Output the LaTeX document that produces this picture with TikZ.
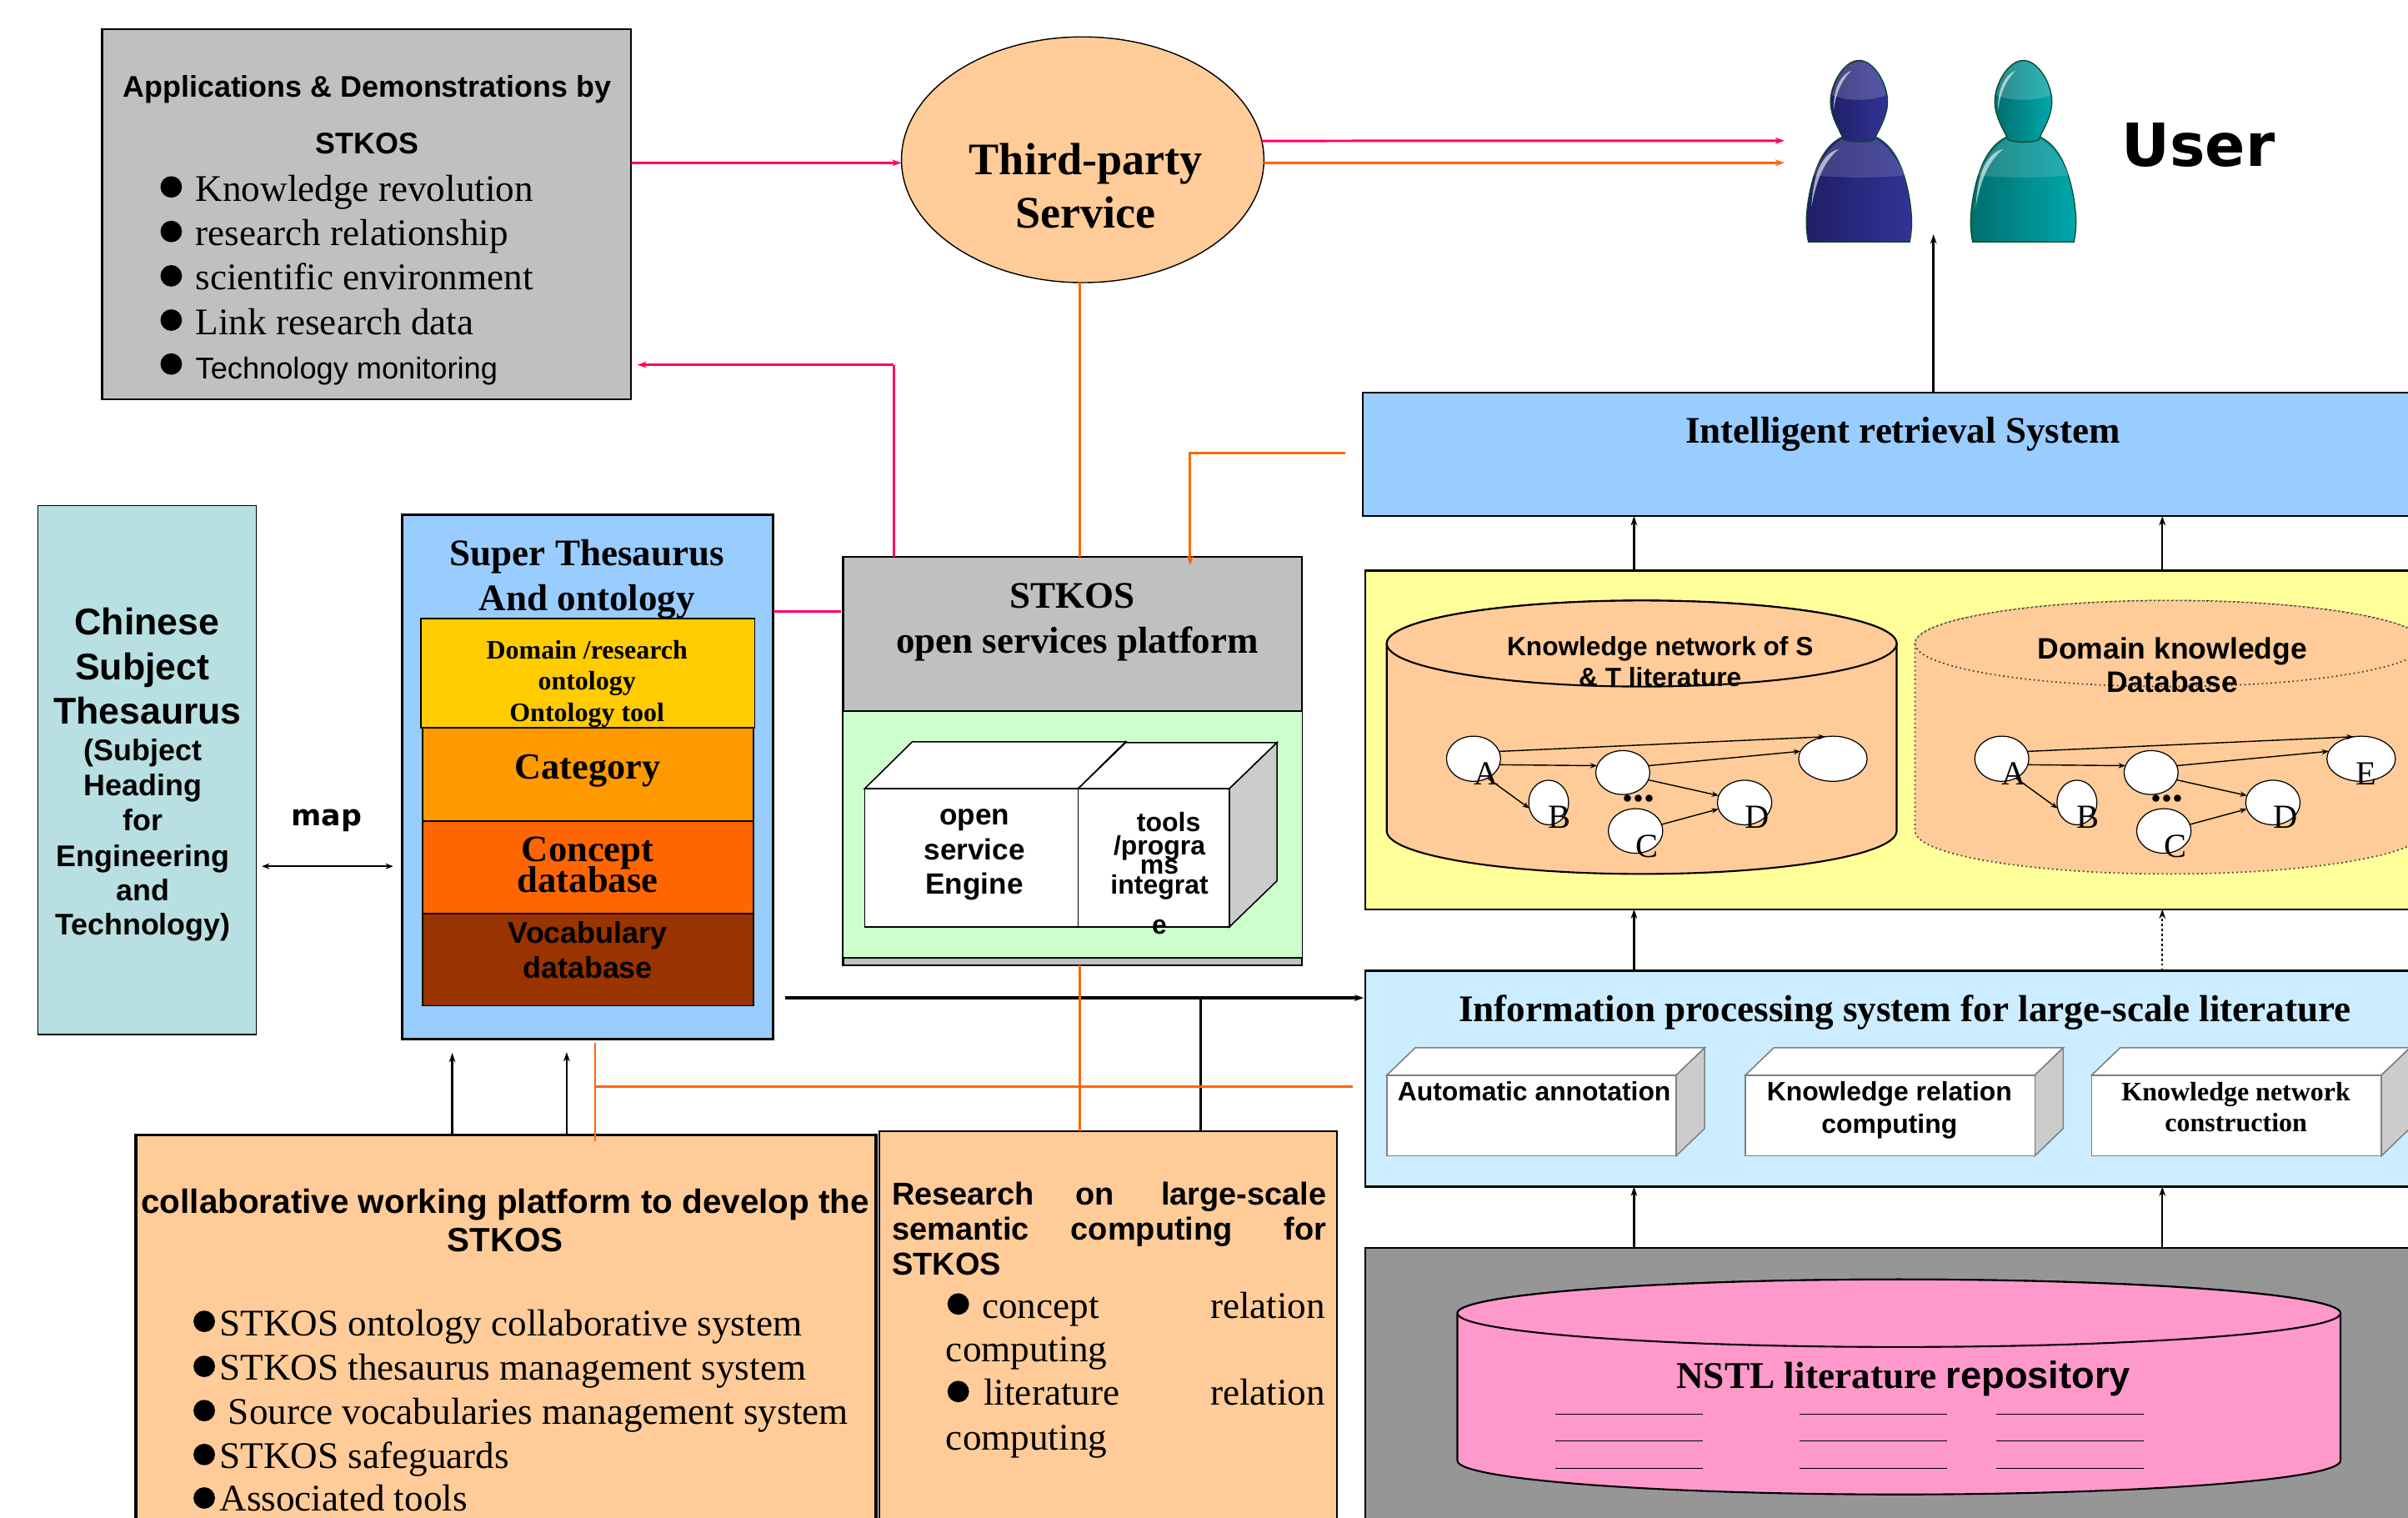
\documentclass[tikz,border=0pt]{standalone}
\usepackage{fontspec}
\setmainfont{Liberation Serif}
\setsansfont{Liberation Sans}
\newfontfamily\dvfont{DejaVu Sans}
\usetikzlibrary{arrows.meta,shapes.geometric}
\def\ou{0.18425mm}
\definecolor{cPink}{HTML}{FF0066}
\definecolor{cOrange}{HTML}{FF6600}
\definecolor{cPeach}{HTML}{FFCC99}
\definecolor{cGrey}{HTML}{C0C0C0}
\definecolor{cSky}{HTML}{99CCFF}
\definecolor{cTeal}{HTML}{B8DFE2}
\definecolor{cMint}{HTML}{CCFFCC}
\definecolor{cCream}{HTML}{FFFF99}
\definecolor{cIce}{HTML}{CCECFF}
\definecolor{cDark}{HTML}{969696}
\definecolor{cRose}{HTML}{FF99CC}
\definecolor{cSide}{HTML}{CCCCCC}
\definecolor{cNavyA}{HTML}{1E1E66}
\definecolor{cNavyB}{HTML}{333399}
\definecolor{cSeaA}{HTML}{006E6E}
\definecolor{cSeaB}{HTML}{00A8AC}
\definecolor{cEdge}{HTML}{0B4A2A}
\newcommand\fsb[1]{\fontsize{#1}{#1}\selectfont\rmfamily\bfseries}
\newcommand\fsr[1]{\fontsize{#1}{#1}\selectfont\rmfamily}
\newcommand\fab[1]{\fontsize{#1}{#1}\selectfont\sffamily\bfseries}
\newcommand\far[1]{\fontsize{#1}{#1}\selectfont\sffamily}
\newcommand\fdj[1]{\fontsize{#1}{#1}\selectfont\dvfont\bfseries}
\newcommand\rn[6]{\node[rbox,#1,minimum width={(#5-#3)*\ou},minimum height={(#6-#4)*\ou}] (#2) at ({(#3+#5)/2},{(#4+#6)/2}) {};}
% name, x1,y1,x2,y2, dx,dy, edge colour
\newcommand\boxthree[8]{%
 \path[draw=#8,fill=white,line width=.45pt] (#2,#3) -- ({#2+#6},{#3-#7}) -- ({#4+#6},{#3-#7}) -- (#4,#3) -- cycle;
 \path[draw=#8,fill=cSide,line width=.45pt] (#4,#3) -- ({#4+#6},{#3-#7}) -- ({#4+#6},{#5-#7}) -- (#4,#5) -- cycle;
 \rn{draw=#8,fill=white,line width=.45pt}{#1}{#2}{#3}{#4}{#5}}
% style, x1, x2, ytop, ybot, rx, ry
\newcommand\cyl[7]{%
 \path[#1] (#2,#4) -- (#2,#5) arc[start angle=180,end angle=0,x radius=#6,y radius=#7] -- (#3,#4) arc[start angle=0,end angle=-180,x radius=#6,y radius=#7] -- cycle;
 \path[#1] ({(#2+#3)/2},#4) ellipse[x radius=#6,y radius=#7];}
\newcommand\person[4]{%
 \begin{scope}[shift={(#1,0)}]
 \path[left color=#2,right color=#3,draw=#4,line width=.35pt] (-10.5,89) .. controls (-24,95) and (-30,112) .. (-33,130) .. controls (-35,143) and (-34.5,150) .. (-33,157.5) -- (33,157.5) .. controls (34.5,150) and (35,143) .. (33,130) .. controls (30,112) and (24,95) .. (10.5,89) -- cycle;
 \path[fill=white,opacity=.14] (-10,90) .. controls (-20,95) and (-27,108) .. (-30,114) .. controls (-15,116) and (15,116) .. (30,114) .. controls (27,108) and (20,95) .. (10,90) -- cycle;
 \path[fill=white,opacity=.6] (-31,135) .. controls (-30,115) and (-25,100) .. (-13,97) .. controls (-23,105) and (-28,118) .. (-31,135) -- cycle;
 \path[left color=#2,right color=#3,draw=#4,line width=.35pt] (0,39.3) .. controls (-10,39.3) and (-18.6,55) .. (-18.6,66) .. controls (-18.6,76) and (-13,84) .. (-10,91) .. controls (-6,93) and (6,93) .. (10,91) .. controls (13,84) and (18.6,76) .. (18.6,66) .. controls (18.6,55) and (10,39.3) .. (0,39.3) -- cycle;
 \path[fill=white,opacity=.18] (0,40) .. controls (-9,40) and (-16,52) .. (-17.5,62) .. controls (-8,66) and (8,66) .. (17.5,62) .. controls (16,52) and (9,40) .. (0,40) -- cycle;
 \path[fill=white,opacity=.6] (-16.5,72) .. controls (-17,60) and (-13,49) .. (-5,46) .. controls (-11,52) and (-15,60) .. (-16.5,72) -- cycle;
 \end{scope}}
% network inside a cylinder
\newcommand\netw[2]{%
 \begin{scope}[shift={(#1,0)}]
 \node[dot,minimum width=35.2*\ou,minimum height=29.4*\ou] (#2a) at (959.5,494) {};
 \node[dot,minimum width=35.2*\ou,minimum height=28.6*\ou] (#2m) at (1056.7,503) {};
 \node[dot,minimum width=44.6*\ou,minimum height=29.4*\ou] (#2e) at (1193.5,494) {};
 \node[dot,minimum width=26*\ou,minimum height=29*\ou] (#2b) at (1008.4,522.5) {};
 \node[dot,minimum width=35.4*\ou,minimum height=29*\ou] (#2d) at (1136,522.5) {};
 \node[dot,minimum width=35.4*\ou,minimum height=29*\ou] (#2c) at (1065,541) {};
 \draw[netarrow] (#2a.16) -- (#2e.109);
 \draw[netarrow] (#2a.-13) -- (#2m.165);
 \draw[netarrow] (#2a.-54) -- (#2b.197);
 \draw[netarrow] (#2m.15) -- (#2e.167);
 \draw[netarrow] (#2m.-16) -- (#2d.165);
 \draw[netarrow] (#2c.14) -- (#2d.194);
 \node[ctr,font=\fsr{11.5}] (#2la) at (967.5,504) {A};
 \node[ctr,font=\fsr{11.5}] (#2lb) at (1015.7,532) {B};
 \node[ctr,font=\fsr{11.5}] (#2lc) at (1072.4,551) {C};
 \node[ctr,font=\fsr{11.5}] (#2ld) at (1144,532) {D};
 \node[lbl,font=\fsb{14.7}] (#2ldots) at (1067,520.6) {...};
 \end{scope}}
\tikzset{
 rbox/.style={rectangle,inner sep=0pt,outer sep=0pt},
 lbl/.style={inner sep=0pt,outer sep=0pt,anchor=base,yshift=-0.18mm},
 ctr/.style={inner sep=0pt,outer sep=0pt,anchor=center},
 dot/.style={ellipse,draw=black,line width=.35pt,fill=white,inner sep=0pt,outer sep=0pt},
 bull/.style={circle,fill=black,inner sep=0pt,outer sep=0pt,minimum size=14*\ou},
 tip/.style={-{Stealth[length=3.2pt,width=2.2pt]}},
 netarrow/.style={line width=.4pt,-{Stealth[length=2.4pt,width=1.8pt]}},
 pinkl/.style={draw=cPink,line width=.85pt},
 orangel/.style={draw=cOrange,line width=.85pt},
 blackl/.style={draw=black,line width=.7pt},
 rule/.style={draw=black,line width=.35pt},
}
\begin{document}
\begin{tikzpicture}[x=0.18425mm,y=-0.18425mm]
\useasboundingbox (0,0) rectangle (1568,987.8);
\clip (0,0) rectangle (1568,987.8);
\fill[white] (0,0) rectangle (1568,987.8);

% ---- boxes
\rn{draw=black,fill=cGrey,line width=.6pt}{app}{66.5}{19}{411}{260}
\node[ellipse,draw=black,fill=cPeach,line width=.4pt,inner sep=0pt,outer sep=0pt,minimum width=236*\ou,minimum height=160*\ou] (third) at (705,104) {};
\rn{draw=black,fill=cSky,line width=.7pt}{retr}{887.5}{255.6}{1620}{336}
\rn{draw=black,fill=cCream,line width=.7pt}{know}{889}{371.5}{1620}{592}
\rn{draw=black,fill=cIce,line width=.6pt}{proc}{889}{632}{1620}{772.6}
\rn{draw=black,fill=cDark,line width=.6pt}{nstl}{889}{812.6}{1620}{1010}
\rn{draw=black,fill=cTeal,line width=.35pt}{chin}{24.6}{329}{167}{673.5}
\rn{draw=black,fill=cSky,line width=.8pt}{sup}{261.8}{335}{503.5}{676.5}
\rn{draw=black,fill=cGrey,line width=.6pt}{stk}{549}{362.4}{848}{628.5}
\rn{draw=black,fill=cMint,line width=.45pt}{stkg}{549}{463}{848}{623.5}
\rn{draw=black,fill=cPeach,line width=.9pt}{coll}{88.5}{739}{570.4}{1010}
\rn{draw=black,fill=cPeach,line width=.5pt}{rese}{572.5}{736.5}{870.6}{1010}

% ---- layers of the super thesaurus
\rn{draw=black,fill={rgb,255:red,255;green,204;blue,0},line width=.5pt}{ly}{274}{402.7}{491.5}{474}
\rn{draw=black,fill={rgb,255:red,255;green,153;blue,0},line width=.5pt}{lc}{275}{474}{490.6}{534.7}
\rn{draw=black,fill=cOrange,line width=.5pt}{lp}{275}{534.7}{490.6}{594.8}
\rn{draw=black,fill={rgb,255:red,153;green,51;blue,0},line width=.5pt}{lv}{275}{594.8}{490.6}{654.8}

% ---- 3D boxes
\boxthree{boxs}{563}{513.5}{702}{603.5}{31}{30.5}{black}
\boxthree{boxt}{702}{513.5}{800.5}{603.5}{31}{30}{black}
\boxthree{boxa}{903}{700}{1091.5}{752.5}{18.5}{17.8}{gray}
\boxthree{boxk}{1136.5}{700}{1325}{752.5}{18.5}{17.8}{gray}
\boxthree{boxn}{1362}{700}{1550.7}{752.5}{18.5}{17.8}{gray}

% ---- cylinders
\cyl{draw=black,fill=cPeach,line width=.6pt}{903}{1235}{419}{541}{166}{28}
\cyl{draw=black!75,fill=cPeach,line width=.5pt,densely dotted}{1247}{1579}{419}{541}{166}{28}
\cyl{draw=black,fill=cRose,line width=.6pt}{949}{1524}{855}{951}{287.5}{22}
\netw{0}{p}
\netw{344}{q}
\node[ctr,font=\fsr{11.5}] (qle) at (1541,504) {E};

% ---- lines inside the repository
\foreach \xa/\xb/\nm in {1013/1109/u,1172/1268/v,1300/1396/w}{
 \foreach \yy/\mm in {920.7/a,938/b,956/c}{
  \coordinate (l\nm\mm s) at (\xa,\yy);
  \coordinate (l\nm\mm e) at (\xb,\yy);
  \draw[rule] (l\nm\mm s) -- (l\nm\mm e);
 }}

% ---- users
\person{1210.5}{cNavyA}{cNavyB}{cEdge}
\person{1317.5}{cSeaA}{cSeaB}{cEdge}

% ---- guide coordinates
\coordinate (gxa) at (1064,0);
\coordinate (gxb) at (1408,0);
\coordinate (gxc) at (1259,0);
\coordinate (gxd) at (703,0);
\coordinate (gxe) at (782,0);
\coordinate (gxf) at (387.5,0);
\coordinate (gxg) at (294.5,0);
\coordinate (gxh) at (369,0);
\coordinate (gxi) at (582,0);
\coordinate (gxj) at (775,0);
\coordinate (gya) at (0,106);
\coordinate (pinkA) at (1162,91.6);
\coordinate (orangeA) at (1162,106);
\coordinate (userT) at (1259,152.6);
\coordinate (pinkB) at (582,237.5);
\coordinate (pinkC) at (415,237.5);
\coordinate (orangeB) at (876,295);
\coordinate (orangeC) at (775,295);
\coordinate (orangeD) at (775,368);
\coordinate (pinkD) at (503.7,398);
\coordinate (pinkE) at (547.5,398);
\coordinate (mapL) at (170.5,564);
\coordinate (mapR) at (256,564);
\coordinate (blackA) at (511,649.7);
\coordinate (blackB) at (888,649.7);
\coordinate (orangeE) at (387.5,707.7);
\coordinate (orangeF) at (881,707.7);
\coordinate (orangeG) at (387.5,679);
\coordinate (orangeH) at (387.5,743);
\coordinate (upA) at (294.5,685.5);
\coordinate (upB) at (369,685);
\coordinate (junc) at (782,649.7);

% ---- connectors
\draw[pinkl,tip] (app.east |- gya) -- (third.181);
\draw[pinkl,tip] (third.6) -- (pinkA);
\draw[orangel,tip] (third.-1) -- (orangeA);
\draw[orangel] (third.south -| gxd) -- (stk.north -| gxd);
\draw[blackl,tip] (retr.north -| gxc) -- (userT);
\draw[pinkl,line width=.7pt] (stk.north -| gxi) -- (pinkB);
\draw[pinkl,line width=.7pt,tip] (pinkB) -- (pinkC);
\draw[orangel,tip] (orangeB) -- (orangeC) -- (orangeD);
\draw[pinkl,line width=.7pt] (pinkD) -- (pinkE);
\draw[blackl,line width=.5pt,{Stealth[length=2.6pt,width=2pt]}-{Stealth[length=2.6pt,width=2pt]}] (mapL) -- (mapR);
\draw[black,line width=1pt,tip] (blackA) -- (blackB);
\draw[blackl,line width=.8pt] (junc) -- (rese.north -| gxe);
\draw[orangel] (stk.south -| gxd) -- (rese.north -| gxd);
\draw[orangel] (orangeE) -- (orangeF);
\draw[orangel,line width=.65pt] (orangeG) -- (orangeH);
\draw[blackl,tip] (coll.north -| gxg) -- (upA);
\draw[blackl,tip] (coll.north -| gxh) -- (upB);
\draw[blackl,tip] (know.north -| gxa) -- (retr.south -| gxa);
\draw[blackl,tip] (know.north -| gxb) -- (retr.south -| gxb);
\draw[blackl,tip] (proc.north -| gxa) -- (know.south -| gxa);
\draw[blackl,densely dotted,tip] (proc.north -| gxb) -- (know.south -| gxb);
\draw[blackl,tip] (nstl.north -| gxa) -- (proc.south -| gxa);
\draw[blackl,tip] (nstl.north -| gxb) -- (proc.south -| gxb);

% ---- texts: application box
\node[lbl,font=\fab{10.2}] (t1) at (239,62.2) {Applications \& Demonstrations by};
\node[lbl,font=\fab{10.2}] (t2) at (239,99.4) {STKOS};
\node[bull] (ba1) at (111.5,121.7) {};
\node[bull] (ba2) at (111.5,150.7) {};
\node[bull] (ba3) at (111.5,179.6) {};
\node[bull] (ba4) at (111.5,208.4) {};
\node[bull] (ba5) at (111.5,237) {};
\node[lbl,anchor=base west,font=\fsr{12.85}] (t3) at (127.4,129.9) {Knowledge revolution};
\node[lbl,anchor=base west,font=\fsr{12.85}] (t4) at (127.4,158.8) {research relationship};
\node[lbl,anchor=base west,font=\fsr{12.85}] (t5) at (127.4,187.8) {scientific environment};
\node[lbl,anchor=base west,font=\fsr{12.85}] (t6) at (127.4,216.7) {Link research data};
\node[lbl,anchor=base west,font=\far{10.3}] (t7) at (127.4,245.7) {Technology monitoring};

% ---- top
\node[lbl,font=\fsb{15.4}] (t8) at (707,112.7) {Third-party};
\node[lbl,font=\fsb{15.4}] (t9) at (707,147.3) {Service};
\node[lbl,anchor=base west,font=\fdj{20.3}] (t10) at (1381.5,107.4) {User};
\node[lbl,font=\fsb{12.8}] (t11) at (1239,287.6) {Intelligent retrieval System};

% ---- chinese subject thesaurus
\node[lbl,font=\fab{12.7}] (t12) at (95.7,412.3) {Chinese};
\node[lbl,font=\fab{12.7}] (t13) at (92.7,441.5) {Subject};
\node[lbl,font=\fab{12.7}] (t14) at (96,470.4) {Thesaurus};
\node[lbl,font=\fab{10.2}] (t15) at (93,494.2) {(Subject};
\node[lbl,font=\fab{10.2}] (t16) at (93,517) {Heading};
\node[lbl,font=\fab{10.2}] (t17) at (93,540) {for};
\node[lbl,font=\fab{10.2}] (t18) at (93,563.3) {Engineering};
\node[lbl,font=\fab{10.2}] (t19) at (93,585.6) {and};
\node[lbl,font=\fab{10.2}] (t20) at (93,607.8) {Technology)};
\node[lbl,font=\fdj{9.9}] (t21) at (212.7,536.6) {map};

% ---- super thesaurus
\node[lbl,font=\fsb{12.8}] (t22) at (382.2,367.5) {Super Thesaurus};
\node[lbl,font=\fsb{12.8}] (t23) at (382.2,396.5) {And ontology};
\node[lbl,font=\fsb{9.1}] (t24) at (382.2,428) {Domain /research};
\node[lbl,font=\fsb{9.1}] (t25) at (382.2,448) {ontology};
\node[lbl,font=\fsb{9.1}] (t26) at (382.2,468.5) {Ontology tool};
\node[lbl,font=\fsb{12.6}] (t27) at (382.7,506.3) {Category};
\node[lbl,font=\fsb{12.7}] (t28) at (382.7,560) {Concept};
\node[lbl,font=\fsb{12.7}] (t29) at (382.7,580) {database};
\node[lbl,font=\fab{10.2}] (t30) at (382.7,613) {Vocabulary};
\node[lbl,font=\fab{10.2}] (t31) at (382.7,636) {database};

% ---- stkos platform
\node[lbl,font=\fsb{12.8}] (t32) at (698.2,395) {STKOS};
\node[lbl,font=\fsb{12.8}] (t33) at (701.5,424.2) {open services platform};
\node[lbl,font=\fab{10}] (t34) at (634.5,536) {open};
\node[lbl,font=\fab{10}] (t35) at (634.5,558.6) {service};
\node[lbl,font=\fab{10}] (t36) at (634.5,581) {Engine};
\node[lbl,font=\fab{9.1}] (t37) at (761,540.5) {tools};
\node[lbl,font=\fab{9.1}] (t38) at (755,555.7) {/progra};
\node[lbl,font=\fab{9.1}] (t39) at (755,568.3) {ms};
\node[lbl,font=\fab{9.1}] (t40) at (755,581) {integrat};
\node[lbl,font=\fab{9.1}] (t41) at (755,607) {e};

% ---- knowledge cylinders
\node[lbl,font=\fab{9}] (t42) at (1081,426) {Knowledge network of S};
\node[lbl,font=\fab{9}] (t43) at (1081,446) {\& T literature};
\node[lbl,font=\fab{10.1}] (t44) at (1414.5,428) {Domain knowledge};
\node[lbl,font=\fab{10.1}] (t45) at (1414.5,450) {Database};

% ---- information processing
\node[lbl,font=\fsb{12.85}] (t46) at (1240.5,664.3) {Information processing system for large-scale literature};
\node[lbl,font=\fab{9.07}] (t47) at (999,715.7) {Automatic annotation};
\node[lbl,font=\fab{9.07}] (t48) at (1230.3,715.7) {Knowledge relation};
\node[lbl,font=\fab{9.07}] (t49) at (1230.3,737) {computing};
\node[lbl,font=\fsb{9.1}] (t50) at (1456,715.7) {Knowledge network};
\node[lbl,font=\fsb{9.1}] (t51) at (1456,736) {construction};

% ---- repository
\node[lbl,anchor=base west,font=\fsb{12.9}] (t52) at (1091.5,903) {NSTL literature};
\node[lbl,anchor=base west,font=\fab{12.9}] (t53) at (1267,903) {repository};

% ---- collaborative box
\node[lbl,font=\fab{11.5}] (t54) at (329,789) {collaborative working platform to develop the};
\node[lbl,font=\fab{11.5}] (t55) at (329,814) {STKOS};
\node[bull] (bc1) at (133,860.3) {};
\node[bull] (bc2) at (133,889.6) {};
\node[bull] (bc3) at (133,918.4) {};
\node[bull] (bc4) at (133,947) {};
\node[bull] (bc5) at (133,975.3) {};
\node[lbl,anchor=base west,font=\fsr{12.85}] (t56) at (143,869) {STKOS ontology collaborative system};
\node[lbl,anchor=base west,font=\fsr{12.85}] (t57) at (143,897.5) {STKOS thesaurus management system};
\node[lbl,anchor=base west,font=\fsr{12.85}] (t58) at (148.7,926.5) {Source vocabularies management system};
\node[lbl,anchor=base west,font=\fsr{12.85}] (t59) at (143,955) {STKOS safeguards};
\node[lbl,anchor=base west,font=\fsr{12.85}] (t60) at (143,983) {Associated tools};

% ---- research box
\node[lbl,anchor=base west,font=\fab{10.8}] (t61) at (580.8,783.4) {Research};
\node[lbl,font=\fab{10.8}] (t62) at (713,783.4) {on};
\node[lbl,anchor=base east,font=\fab{10.8}] (t63) at (863.8,783.4) {large-scale};
\node[lbl,anchor=base west,font=\fab{10.8}] (t64) at (580.8,806.6) {semantic};
\node[lbl,font=\fab{10.8}] (t65) at (750,806.6) {computing};
\node[lbl,anchor=base east,font=\fab{10.8}] (t66) at (863.8,806.6) {for};
\node[lbl,anchor=base west,font=\fab{10.8}] (t67) at (580.8,829) {STKOS};
\node[bull] (br1) at (624,849) {};
\node[bull] (br2) at (624,906) {};
\node[lbl,anchor=base west,font=\fsr{12.85}] (t68) at (639.5,857.3) {concept};
\node[lbl,anchor=base east,font=\fsr{12.85}] (t69) at (863,857.3) {relation};
\node[lbl,anchor=base west,font=\fsr{12.85}] (t70) at (616,885.8) {computing};
\node[lbl,anchor=base west,font=\fsr{12.85}] (t71) at (640.6,914) {literature};
\node[lbl,anchor=base east,font=\fsr{12.85}] (t72) at (863,914) {relation};
\node[lbl,anchor=base west,font=\fsr{12.85}] (t73) at (616,943) {computing};
\end{tikzpicture}
\end{document}
